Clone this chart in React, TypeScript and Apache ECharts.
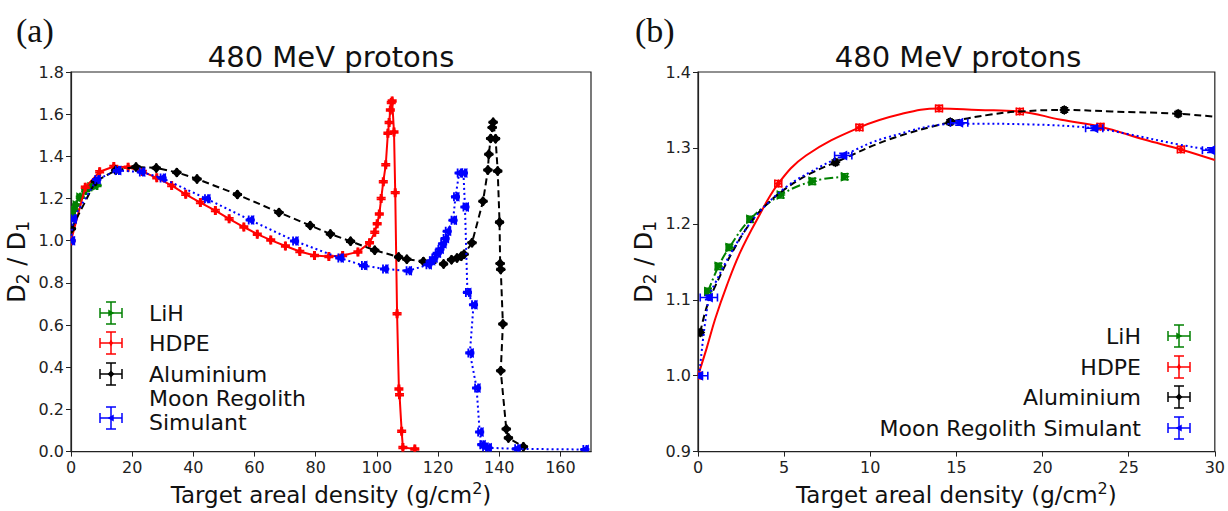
import React, { useEffect, useRef } from "react";
import * as echarts from "echarts";

// ---------------- data ----------------
// LiH markers
const lihX = [0.58, 1.19, 1.82, 3.03, 4.8, 6.64, 8.52];
const lihY = [1.111, 1.144, 1.169, 1.206, 1.238, 1.256, 1.262];

// HDPE markers
const hdpeX = [0, 4.66, 9.37, 13.99, 18.68, 23.36, 28.03, 32.9, 37.5, 42.3, 47.2, 51.7, 56.5, 60.9, 65.3, 70.1, 74.8, 79.6, 84.3, 88.8, 93.8, 97.6, 99.3, 100.1, 100.8, 101.4, 102.1, 102.9, 103.6, 104.0, 104.4, 104.7, 105.0, 105.6, 106.0, 106.6, 107.2, 107.4, 108.1, 108.5, 112.4];
const hdpeY = [1.0, 1.253, 1.327, 1.352, 1.348, 1.328, 1.298, 1.262, 1.22, 1.181, 1.143, 1.104, 1.065, 1.031, 1.003, 0.975, 0.949, 0.93, 0.925, 0.93, 0.947, 0.99, 1.04, 1.08, 1.127, 1.2, 1.28, 1.36, 1.51, 1.56, 1.62, 1.655, 1.662, 1.515, 1.228, 0.654, 0.297, 0.27, 0.096, 0.02, 0.012];

// Aluminium markers
const alX = [0.13, 7.98, 14.64, 21.26, 27.87, 34.6, 41.2, 54.4, 68.0, 78.2, 84.8, 91.4, 99.3, 107.1, 109.8, 115.2, 121.8, 124.4, 126.2, 127.6, 128.5, 131.1, 134.7, 136.3, 136.6, 137.2, 137.7, 138.0, 138.8, 139.5, 140.1, 140.3, 140.5, 141.2, 140.5, 142.3, 143.0, 147.9];
const alY = [1.057, 1.281, 1.334, 1.35, 1.345, 1.324, 1.293, 1.219, 1.134, 1.072, 1.032, 0.997, 0.955, 0.923, 0.912, 0.902, 0.89, 0.91, 0.918, 0.926, 0.936, 0.99, 1.187, 1.335, 1.41, 1.485, 1.537, 1.562, 1.484, 1.33, 1.088, 0.892, 0.864, 0.605, 0.383, 0.107, 0.065, 0.023];

// Moon regolith simulant markers
const moonX = [0.07, 0.63, 8.43, 15.16, 23.0, 29.78, 44.3, 58.6, 73.1, 87.9, 95.6, 102.5, 110.2, 116.7, 117.8, 118.6, 119.7, 120.6, 121.5, 122.3, 123.0, 124.9, 125.7, 126.9, 128.3, 128.8, 129.6, 131.6, 130.4, 132.6, 133.6, 134.3, 135.2, 136.3, 145.7, 168.0];
const moonY = [1.0, 1.103, 1.29, 1.333, 1.326, 1.297, 1.199, 1.098, 0.999, 0.918, 0.882, 0.866, 0.857, 0.886, 0.905, 0.918, 0.94, 0.96, 0.985, 1.01, 1.045, 1.097, 1.208, 1.321, 1.321, 1.16, 0.755, 0.696, 0.468, 0.302, 0.093, 0.033, 0.022, 0.018, 0.013, 0.01];

// fitted curves as drawn in panel (b)
const hdpeCurveX = [0, 0.5, 1, 1.66, 2.42, 3.39, 4.66, 6.27, 9.37, 11.85, 13.99, 16.27, 18.68, 21.08, 23.36, 25.9, 28.03, 30];
const hdpeCurveY = [1.0, 1.036, 1.075, 1.118, 1.161, 1.204, 1.253, 1.29, 1.327, 1.345, 1.352, 1.35, 1.348, 1.337, 1.328, 1.311, 1.298, 1.284];
const alCurveX = [0.13, 0.5, 1, 2, 3, 3.96, 5.12, 6.5, 7.98, 11.08, 14.64, 17, 18.68, 21.26, 24, 27.87, 30];
const alCurveY = [1.057, 1.09, 1.118, 1.163, 1.2, 1.225, 1.247, 1.266, 1.281, 1.311, 1.334, 1.344, 1.348, 1.35, 1.348, 1.345, 1.341];
const moonCurveX = [0.07, 0.63, 1, 2, 3, 4, 5.2, 6.5, 8.43, 11, 15.16, 19.2, 23.0, 25, 27.8, 29.78, 30];
const moonCurveY = [1.0, 1.103, 1.122, 1.165, 1.2, 1.226, 1.25, 1.268, 1.29, 1.314, 1.332, 1.331, 1.326, 1.318, 1.305, 1.297, 1.296];

// error bar half-widths (x in g/cm², y in ratio units)
const lihErr = [0.15, 0.004];
const hdpeErr = [0.2, 0.004];
const alErr = [0.1, 0.003];
const moonErr = [0.5, 0.003];

const panelTitle = "480 MeV protons";
const xName = "Target areal density (g/cm{sup|2})";
const yName = "D{sub|2} / D{sub|1}";
const legendNames = ["LiH", "HDPE", "Aluminium", "Moon Regolith Simulant"];

// ---------------- styling ----------------
const FONT = "DejaVu Sans";
const GREEN = "#008000";
const RED = "#ff0000";
const BLACK = "#000000";
const BLUE = "#0000ff";

const zip = (xs: number[], ys: number[]) => xs.map((x, i) => [x, ys[i]]);

type Kind = "right" | "left" | "diamond" | "thin";

function markerPts(kind: Kind, cx: number, cy: number, s: number) {
  switch (kind) {
    case "right":
      return [[cx + s, cy], [cx - s * 0.8, cy - s], [cx - s * 0.8, cy + s]];
    case "left":
      return [[cx - s, cy], [cx + s * 0.8, cy - s], [cx + s * 0.8, cy + s]];
    case "diamond":
      return [[cx, cy - s], [cx + s, cy], [cx, cy + s], [cx - s, cy]];
    default:
      return [[cx, cy - s], [cx + s * 0.6, cy], [cx, cy + s], [cx - s * 0.6, cy]];
  }
}

function errGroup(cx: number, cy: number, xl: number, xr: number, yt: number, yb: number, cap: number, color: string, kind: Kind, size: number, lw: number) {
  const st = { stroke: color, lineWidth: lw };
  const ln = (x1: number, y1: number, x2: number, y2: number) => ({ type: "line", shape: { x1, y1, x2, y2 }, style: st });
  return [
    ln(xl, cy, xr, cy),
    ln(cx, yt, cx, yb),
    ln(xl, cy - cap, xl, cy + cap),
    ln(xr, cy - cap, xr, cy + cap),
    ln(cx - cap, yt, cx + cap, yt),
    ln(cx - cap, yb, cx + cap, yb),
    { type: "polygon", shape: { points: markerPts(kind, cx, cy, size) }, style: { fill: color } },
  ];
}

function errRender(color: string, kind: Kind, size: number, err: number[], cap: number, lw: number) {
  return (_p: any, api: any) => {
    const x = api.value(0);
    const y = api.value(1);
    const c = api.coord([x, y]);
    const xl = api.coord([x - err[0], y])[0];
    const xr = api.coord([x + err[0], y])[0];
    const yt = api.coord([x, y + err[1]])[1];
    const yb = api.coord([x, y - err[1]])[1];
    return { type: "group", children: errGroup(c[0], c[1], xl, xr, yt, yb, cap, color, kind, size, lw) };
  };
}

const axisLabelStyle = { fontFamily: FONT, fontSize: 16, color: "#222" };
const xNameStyle = {
  fontFamily: FONT, fontSize: 23, color: "#111",
  rich: { sup: { fontFamily: FONT, fontSize: 16, color: "#111", padding: [0, 0, 12, 0] } },
};
const yNameStyle = {
  fontFamily: FONT, fontSize: 24, color: "#111",
  rich: { sub: { fontFamily: FONT, fontSize: 17, color: "#111", padding: [12, 0, 0, 0] } },
};

export default function App() {
  const ref = useRef<HTMLDivElement>(null);

  useEffect(() => {
    if (!ref.current) return;
    const chart = echarts.init(ref.current, undefined, { renderer: "svg" });

    const mats = [
      { name: legendNames[0], xs: lihX, ys: lihY, cx: lihX, cy: lihY, color: GREEN, kind: "right" as Kind, size: 5, err: lihErr, dash: [9, 3, 2, 3] },
      { name: legendNames[1], xs: hdpeX, ys: hdpeY, cx: hdpeCurveX, cy: hdpeCurveY, color: RED, kind: "thin" as Kind, size: 4.5, err: hdpeErr, dash: "solid" },
      { name: legendNames[2], xs: alX, ys: alY, cx: alCurveX, cy: alCurveY, color: BLACK, kind: "diamond" as Kind, size: 5, err: alErr, dash: [7, 4] },
      { name: legendNames[3], xs: moonX, ys: moonY, cx: moonCurveX, cy: moonCurveY, color: BLUE, kind: "left" as Kind, size: 5, err: moonErr, dash: [2, 3] },
    ];

    const series: any[] = [];
    mats.forEach((m, i) => {
      const pts = zip(m.xs, m.ys);
      // panel (a)
      series.push({
        type: "line", name: m.name, xAxisIndex: 0, yAxisIndex: 0, data: pts, showSymbol: false, symbol: "none",
        lineStyle: { color: m.color, width: 2, type: m.dash }, z: 2 + i * 2, silent: true,
      });
      series.push({
        type: "custom", name: m.name, xAxisIndex: 0, yAxisIndex: 0, data: pts, clip: true,
        renderItem: errRender(m.color, m.kind, m.size, m.err, 4.5, 1.8), z: 3 + i * 2, silent: true,
      });
      // panel (b)
      series.push({
        type: "line", name: m.name, xAxisIndex: 1, yAxisIndex: 1, data: zip(m.cx, m.cy), showSymbol: false, symbol: "none",
        smooth: 0.4, lineStyle: { color: m.color, width: 2, type: m.dash }, z: 2 + i * 2, silent: true,
      });
      series.push({
        type: "custom", name: m.name, xAxisIndex: 1, yAxisIndex: 1, data: pts.filter((p) => p[0] <= 31), clip: true,
        renderItem: errRender(m.color, m.kind, m.size, m.err, 4, 1.6), z: 3 + i * 2, silent: true,
      });
    });

    // legends drawn as graphic elements (error-bar style handles)
    const legendIcon = (cx: number, cy: number, color: string, kind: Kind) =>
      ({ type: "group", children: errGroup(cx, cy, cx - 11, cx + 11, cy - 11, cy + 11, 5, color, kind, 3.4, 1.5) });
    const legendText = (x: number, y: number, text: string, align: string) => ({
      type: "text", x, y,
      style: { text, fontFamily: FONT, fontSize: 22, fill: "#111", align, verticalAlign: "middle", lineHeight: 24 },
    });

    const legAY = [313, 343, 374, 418];
    const legBY = [336, 367, 397, 428];
    const graphic: any[] = [
      { type: "text", x: 16, y: 30, style: { text: "(a)", fontFamily: "Liberation Serif", fontSize: 34, fill: "#111", verticalAlign: "middle" } },
      { type: "text", x: 635, y: 30, style: { text: "(b)", fontFamily: "Liberation Serif", fontSize: 34, fill: "#111", verticalAlign: "middle" } },
      { type: "text", x: 331, y: 57, style: { text: panelTitle, fontFamily: FONT, fontSize: 29, fill: "#111", align: "center", verticalAlign: "middle" } },
      { type: "text", x: 958, y: 57, style: { text: panelTitle, fontFamily: FONT, fontSize: 29, fill: "#111", align: "center", verticalAlign: "middle" } },
    ];
    mats.forEach((m, i) => {
      graphic.push(legendIcon(111, legAY[i], m.color, m.kind));
      graphic.push(legendText(149, i === 3 ? 410 : legAY[i], i === 3 ? "Moon Regolith\nSimulant" : m.name, "left"));
      graphic.push(legendIcon(1179, legBY[i], m.color, m.kind));
      graphic.push(legendText(1141, legBY[i], m.name, "right"));
    });

    const gridStyle = { show: true, borderColor: "#222", borderWidth: 1.2, backgroundColor: "transparent", containLabel: false };
    const xCommon = {
      type: "value", nameLocation: "middle", nameGap: 28, name: xName, nameTextStyle: xNameStyle,
      axisLine: { show: true, lineStyle: { color: "#222", width: 1.2 } },
      axisTick: { show: true, inside: false, length: 5, lineStyle: { color: "#222" } },
      splitLine: { show: false },
    };
    const yCommon = {
      type: "value", nameLocation: "middle", nameGap: 40, name: yName, nameTextStyle: yNameStyle,
      axisLine: { show: true, lineStyle: { color: "#222", width: 1.2 } },
      axisTick: { show: true, inside: false, length: 5, lineStyle: { color: "#222" } },
      splitLine: { show: false },
    };

    chart.setOption({
      animation: false,
      backgroundColor: "#ffffff",
      grid: [
        { ...gridStyle, left: 71, top: 72, width: 520, height: 387 },
        { ...gridStyle, left: 698, top: 72, width: 520, height: 387 },
      ],
      xAxis: [
        { ...xCommon, gridIndex: 0, min: 0, max: 170, interval: 20, axisLabel: { ...axisLabelStyle, margin: 8, showMaxLabel: false } },
        { ...xCommon, gridIndex: 1, min: 0, max: 30, interval: 5, axisLabel: { ...axisLabelStyle, margin: 8 } },
      ],
      yAxis: [
        { ...yCommon, gridIndex: 0, min: 0, max: 1.8, interval: 0.2, axisLabel: { ...axisLabelStyle, margin: 7, formatter: (v: number) => v.toFixed(1) } },
        { ...yCommon, gridIndex: 1, min: 0.9, max: 1.4, interval: 0.1, axisLabel: { ...axisLabelStyle, margin: 7, formatter: (v: number) => v.toFixed(1) } },
      ],
      series,
      graphic,
    });

    return () => chart.dispose();
  }, []);

  return <div ref={ref} style={{ position: "absolute", left: 0, top: 0, width: 1228, height: 511, background: "#fff" }} />;
}
